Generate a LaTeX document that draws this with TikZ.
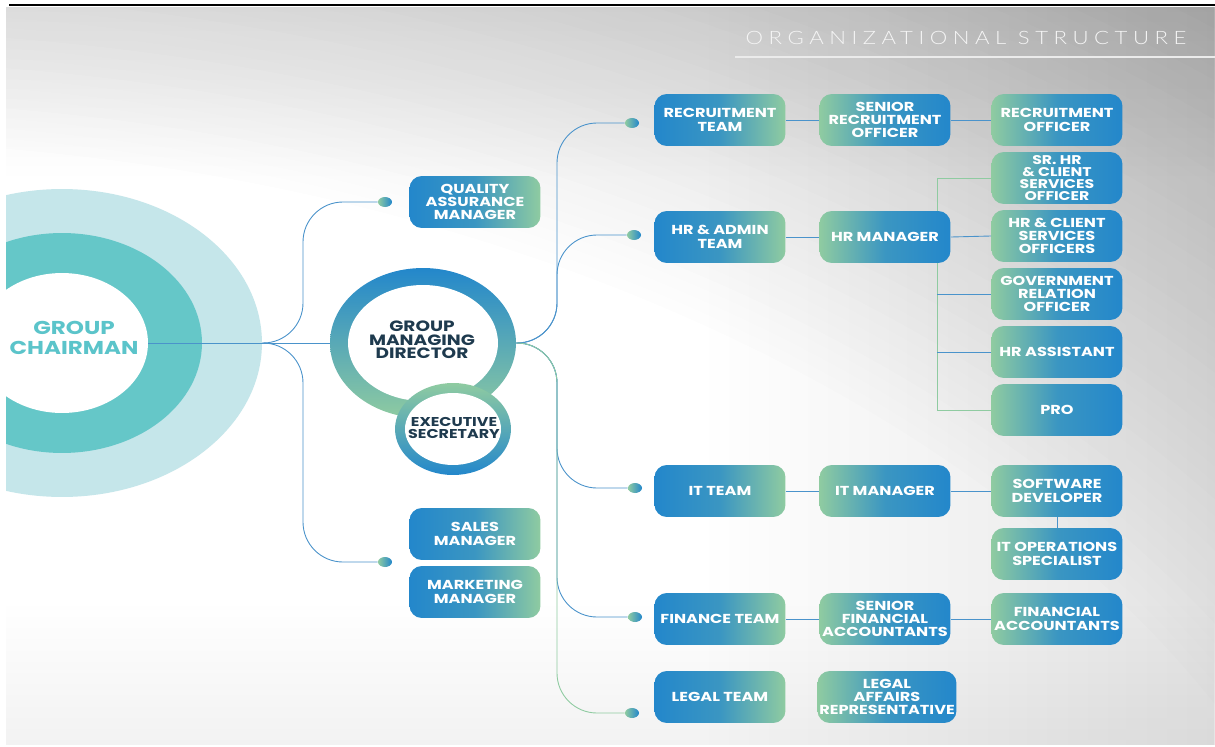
\documentclass[tikz,border=0pt]{standalone}
\usepackage{fontspec}
\usetikzlibrary{shapes.geometric,fadings}

\newfontfamily\boxfont{Poppins}[FakeStretch=1.24]
\newfontfamily\titlefont{Lato Light}[FakeStretch=1.2,LetterSpace=30]

\definecolor{boxblue}{HTML}{2387CB}
\definecolor{boxgreen}{HTML}{8FCBA1}
\definecolor{linkblue}{HTML}{4A93CB}
\definecolor{linkgreen}{HTML}{8FCBA1}
\definecolor{ringpale}{HTML}{C5E6EA}
\definecolor{ringteal}{HTML}{65C7C8}
\definecolor{chairtext}{HTML}{5BC4CA}
\definecolor{navy}{HTML}{1E3A4E}

\begin{document}
\begin{tikzpicture}[x=0.02cm, y=-0.02cm,
  box/.style={rounded corners=7pt, minimum width=2.62cm, minimum height=1.04cm, inner sep=1pt, align=center, text=white, font=\boxfont\bfseries\fontsize{7.4}{7.6}\selectfont},
  team/.style={box, left color=boxblue, right color=boxgreen, middle color=boxblue!78!boxgreen},
  role/.style={box, left color=boxgreen, right color=boxblue, middle color=boxblue!78!boxgreen},
  dot/.style={ellipse, minimum width=0.28cm, minimum height=0.2cm, inner sep=0pt, left color=boxgreen, right color=boxblue},
  ring/.style={ellipse, inner sep=0pt},
  label/.style={align=center, text=navy},
  link/.style={draw=linkblue, line width=0.5pt},
  branch/.style={link, rounded corners=0.8cm}]

\useasboundingbox (0,0) rectangle (1215,747);

% backdrop and chairman rings
\begin{scope}
\clip (6,7) rectangle (1215,745);
\fill[black!30] (6,7) rectangle (1215,745);
\foreach \r in {1600,1590,...,1060} {
  \pgfmathsetmacro\g{min(30,(\r-1058)*0.05)}
  \fill[black!\g] (-200,1200) ellipse [x radius=1.51*\r, y radius=\r];
}
\fill[black, opacity=0.1, path fading=west] (700,7) rectangle (1215,745);
\fill[black, opacity=0.07, path fading=south] (6,7) rectangle (1215,180);
\fill[black, opacity=0.05, path fading=north] (6,600) rectangle (1215,745);
\node[ring, fill=ringpale, minimum width=8cm, minimum height=6.16cm] (chairo) at (62,343) {};
\node[ring, fill=ringteal, minimum width=5.6cm, minimum height=4.4cm] (chairm) at (62,343) {};
\node[ring, fill=white, minimum width=3.44cm, minimum height=2.8cm] (chair) at (62,343) {};
\end{scope}
\draw[line width=0.06cm] (9,5) -- (1215,5);

% title
\node[font=\titlefont\fontsize{10.5}{12}\selectfont, text=white!96!black] (title) at (966,38) {ORGANIZATIONAL STRUCTURE};
\draw[draw=white!92!black, line width=0.6pt] (735,57) -- (1215,57);

\node[label, text=chairtext, font=\boxfont\bfseries\fontsize{10.6}{11.4}\selectfont] (chairtxt) at (74,338) {GROUP\\CHAIRMAN};

% managing director + secretary
\node[ring, minimum width=3.72cm, minimum height=3cm, top color=boxblue, bottom color=boxgreen] (gmd) at (423,343) {};
\node[ring, fill=white, minimum width=3cm, minimum height=2.32cm] (gmdin) at (gmd) {};
\node[label, font=\boxfont\bfseries\fontsize{8.5}{7.8}\selectfont] (gmdlbl) at (422,340) {GROUP\\MANAGING\\DIRECTOR};
\node[ring, minimum width=2.32cm, minimum height=1.84cm, top color=boxgreen, bottom color=boxblue] (exec) at (453,429) {};
\node[ring, fill=white, minimum width=1.92cm, minimum height=1.44cm] (execin) at (exec) {};
\node[label, font=\boxfont\bfseries\fontsize{7.3}{6.8}\selectfont] (execlbl) at (454,428) {EXECUTIVE\\SECRETARY};

% left side
\node[team] (qa) at (475,202) {QUALITY\\ASSURANCE\\MANAGER};
\node[team] (sales) at (475,534) {SALES\\MANAGER};
\node[team] (mkt) at (475,592) {MARKETING\\MANAGER};
\node[dot] (dqa) at (385,202) {};
\node[dot] (dsales) at (385,562) {};

\coordinate (lbus) at (303,343);
\draw[link] (chair.east) -- (gmd.west);
\draw[branch] (chairo.east) -- (lbus) |- (dqa.west);
\draw[branch] (chairo.east) -- (lbus) |- (dsales.west);

% teams
\node[team] (recteam) at (720,120) {RECRUITMENT\\TEAM};
\node[team] (hrteam) at (720,237) {HR \& ADMIN\\TEAM};
\node[team] (itteam) at (720,491) {IT TEAM};
\node[team] (finteam) at (720,619) {FINANCE TEAM};
\node[team] (legteam) at (720,697) {LEGAL TEAM};

\node[dot] (drec) at (632,123) {};
\node[dot] (dhr) at (634,235) {};
\node[dot] (dit) at (635,488) {};
\node[dot] (dfin) at (635,617) {};
\node[dot] (dleg) at (632,713) {};

\coordinate (rbus) at (557,343);
\draw[branch] (gmd.east) -- (rbus) |- (drec.west);
\draw[branch] (gmd.east) -- (rbus) |- (dhr.west);
\draw[branch] (gmd.east) -- (rbus) |- (dit.west);
\draw[branch] (gmd.east) -- (rbus) |- (dfin.west);
\draw[branch, draw=linkgreen] (gmd.east) -- (rbus) |- (dleg.west);

% managers
\node[role] (srrec) at (885,120) {SENIOR\\RECRUITMENT\\OFFICER};
\node[role] (hrmgr) at (885,237) {HR MANAGER};
\node[role] (itmgr) at (885,491) {IT MANAGER};
\node[role] (srfin) at (885,619) {SENIOR\\FINANCIAL\\ACCOUNTANTS};
\node[role, minimum width=2.78cm] (legrep) at (887,697) {LEGAL\\AFFAIRS\\REPRESENTATIVE};

% staff
\node[role] (recoff) at (1057,120) {RECRUITMENT\\OFFICER};
\node[role, font=\boxfont\bfseries\fontsize{7.2}{6.7}\selectfont] (srhr) at (1057,178) {SR. HR\\\& CLIENT\\SERVICES\\OFFICER};
\node[role] (hrcso) at (1057,236) {HR \& CLIENT\\SERVICES\\OFFICERS};
\node[role] (gov) at (1057,294) {GOVERNMENT\\RELATION\\OFFICER};
\node[role] (hrasst) at (1057,352) {HR ASSISTANT};
\node[role] (pro) at (1057,410) {PRO};
\node[role] (swdev) at (1057,491) {SOFTWARE\\DEVELOPER};
\node[role] (itops) at (1057,554) {IT OPERATIONS\\SPECIALIST};
\node[role] (finacc) at (1057,619) {FINANCIAL\\ACCOUNTANTS};

\draw[link] (recteam.east) -- (srrec.west);
\draw[link] (srrec.east) -- (recoff.west);
\draw[link] (hrteam.east) -- (hrmgr.west);
\draw[link] (hrmgr.east) -- (hrcso.west);
\draw[link] (itteam.east) -- (itmgr.west);
\draw[link] (itmgr.east) -- (swdev.west);
\draw[link] (swdev.south) -- (itops.north);
\draw[link] (finteam.east) -- (srfin.west);
\draw[link] (srfin.east) -- (finacc.west);

% hr bus
\coordinate (hrbus) at (937,0);
\draw[link, draw=linkgreen] (hrmgr.north -| hrbus) |- (srhr.west);
\draw[link, draw=linkgreen] (hrmgr.south -| hrbus) |- (pro.west);
\draw[link] (hrbus |- gov.west) -- (gov.west);
\draw[link] (hrbus |- hrasst.west) -- (hrasst.west);

\end{tikzpicture}
\end{document}
